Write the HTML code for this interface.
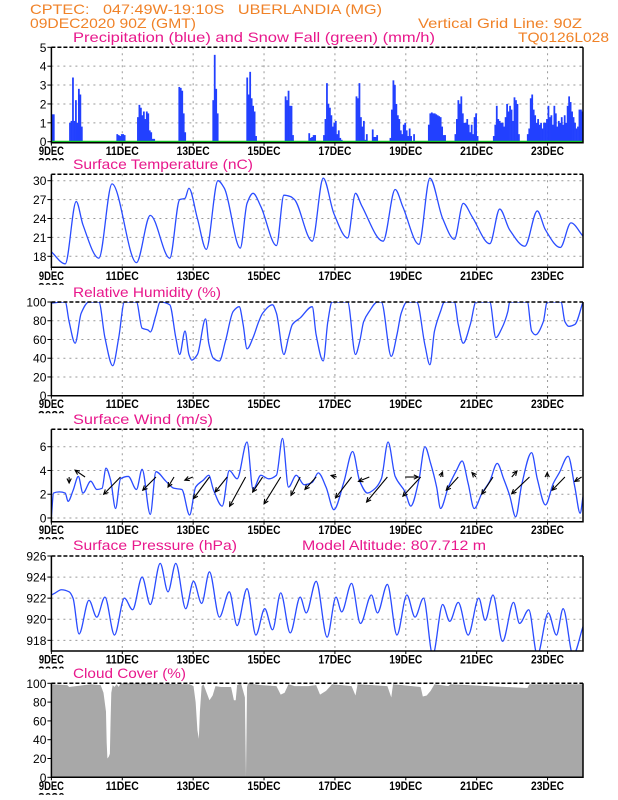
<!DOCTYPE html>
<html><head><meta charset="utf-8"><style>
html,body{margin:0;padding:0;background:#fff;}
svg{display:block;font-family:"Liberation Sans",sans-serif;}
</style></head><body>
<svg id="c" width="618" height="800" viewBox="0 0 618 800" xmlns="http://www.w3.org/2000/svg">
<g fill="#f08228" font-size="14">
<text x="30" y="14" textLength="352" lengthAdjust="spacingAndGlyphs" xml:space="preserve">CPTEC:   047:49W-19:10S   UBERLANDIA (MG)</text>
<text x="30" y="28" textLength="166" lengthAdjust="spacingAndGlyphs">09DEC2020 90Z (GMT)</text>
<text x="418" y="28" textLength="164" lengthAdjust="spacingAndGlyphs">Vertical Grid Line: 90Z</text>
<text x="518" y="42" textLength="91" lengthAdjust="spacingAndGlyphs">TQ0126L028</text>
</g>
<g id="plots"></g>
</svg>
<script>
// ---------- DATA ----------
const dayLabels=["9DEC","11DEC","13DEC","15DEC","17DEC","19DEC","21DEC","23DEC"];
const dayTicks=[0,2,4,6,8,10,12,14];
// precipitation runs: start hour, hourly values (mm/h)
const precipStarts=[0,12,44,58,86,109,132,158,174,184,206,229,255,273,299,322];
const precipRuns=[
[1.45,1.45],
[1.0,1.1,3.4,1.1,2.2,1.0,2.8,2.5,0.8],
[0.4,0.35,0.3,0.4,0.4,0.35],
[1.3,1.95,1.8,1.4,1.6,1.2,1.6,1.5,0.6,0.5,0.15,0.15],
[2.9,2.85,2.7,1.5,0.5],
[2.2,4.6,2.8,1.5],
[3.4,2.5,3.7,2.3,1.9,1.6,0.3],
[2.4,2.2,2.7,1.9,1.9,0.35],
[0.45,0.2,0.25,0.35,0.35],
[0.35,1.2,3.1,2.0,1.8,1.4,0.8,1.0,1.1,0.4,0.6,0.2,0.1],
[2.4,2.3,3.1,1.3,0.8,1.1,0.1,0.4,0,0,0,0.65,0.25,0.25,0.35],
[0.2,1.7,3.25,3.0,2.0,1.4,1.2,0.6,0.4,0.9,1.0,0.6,0.3,0.7,0.3,0,0.4],
[0.9,1.5,1.55,1.5,1.5,1.45,1.4,1.35,1.3,0.8,0.35,0.35],
[0.4,1.2,2.2,2.0,2.4,1.5,1.0,1.0,1.2,0.9,0.5,0.9,0.4,1.3,1.5,0.3],
[0.3,0.9,1.9,1.2,1.1,1.0,1.0,0.8,1.3,2.0,1.6,1.9,1.7,1.1,2.35,2.2,2.0,0.4],
[0.4,0.7,2.3,2.5,1.7,1.4,1.0,1.2,0.9,1.0,0.7,1.0,1.0,1.2,1.9,1.3,1.4,0.9,1.9,1.5,0.8,1.1,1.0,1.3,0.9,1.4,1.0,1.9,2.4,2.1,1.6,1.3,1.0,0.7,0.8,1.7,1.7,1.6]
];
const snowValue=0;
const tempDays=[0,.39,.70,.89,1.34,1.71,2.40,2.79,3.34,3.62,3.77,3.88,4.12,4.37,4.70,4.88,5.33,5.52,5.69,5.91,6.35,6.56,6.74,6.86,7.36,7.67,7.97,8.36,8.58,8.75,9.36,9.70,9.92,10.37,10.68,11.04,11.37,11.62,11.87,12.37,12.65,12.93,13.36,13.71,13.94,14.36,14.66,15];
const tempVals=[18.7,16.8,26.7,23,17.7,29.5,17.0,24.5,17.7,27,27.2,28.8,24,19.1,30,28.8,19.3,26.4,28,25.9,19.7,27.7,27.5,27,20.4,30.4,24.8,20.9,28,26.1,20.4,28.6,25.8,19.9,30.4,24,20.7,26.4,24.3,20,25.5,22.2,19.6,25.2,22.2,19.4,23.3,21.2];
const rhDays=[0,.39,.50,.67,.84,1.06,1.34,1.51,1.73,1.90,2.06,2.40,2.56,2.73,2.79,2.95,3.07,3.34,3.51,3.62,3.77,3.88,3.96,4.12,4.35,4.44,4.57,4.74,4.91,5.13,5.30,5.41,5.52,5.69,5.85,5.96,6.24,6.35,6.56,6.69,6.80,7.02,7.36,7.47,7.67,7.80,7.92,8.36,8.58,8.70,8.81,8.97,9.20,9.31,9.59,9.75,9.87,10.03,10.31,10.54,10.68,10.81,10.98,11.09,11.37,11.48,11.62,11.82,11.98,12.37,12.54,12.71,12.88,12.93,13.43,13.55,13.66,13.88,13.99,14.38,14.49,14.60,14.77,15];
const rhVals=[99,100,79,56,88,100,100,62,32,62,100,100,72,70,68,86,100,97,62,44,69,44,38,44,82,56,40,37,58,90,95,76,50,62,79,88,97,88,44,62,76,83,95,65,37,79,100,100,44,58,79,90,100,100,42,65,88,100,100,54,33,69,90,100,100,76,56,76,100,100,62,72,90,100,100,69,65,79,100,100,79,74,76,100];
const windDays=[0,.06,.22,.39,.47,.61,.76,.89,1.11,1.28,1.43,1.54,1.67,1.81,1.95,2.17,2.40,2.56,2.79,2.95,3.23,3.46,3.68,3.90,4.07,4.29,4.44,4.57,4.82,5.02,5.24,5.52,5.69,5.91,6.13,6.35,6.52,6.69,6.91,7.13,7.36,7.53,7.75,7.97,8.25,8.50,8.70,8.92,9.14,9.31,9.50,9.70,9.98,10.14,10.37,10.54,10.70,10.87,10.98,11.20,11.43,11.59,11.76,11.93,12.15,12.37,12.58,12.76,12.93,13.10,13.27,13.55,13.71,13.94,14.16,14.33,14.58,14.77,14.92,15];
const windVals=[0.1,2.1,2.2,2.1,1.4,2.3,3.5,2.1,3.1,2.4,2.5,4.2,3.2,0.8,3.3,3.5,2.4,4.1,0.3,3.9,3.1,2.5,2.4,0.25,2.6,3.2,3.6,2.4,1.0,4.0,3.3,6.4,2.4,3.6,3.3,3.6,6.7,2.6,3.6,2.8,3.0,3.8,2.6,0.7,3.0,5.6,3.1,2.1,2.5,3.3,6.4,3.5,2.2,1.0,3.2,6.0,4.6,2.6,0.8,2.6,4.0,4.8,2.9,0.8,2.1,3.1,4.6,3.3,1.9,0.1,2.8,5.5,3.3,1.1,2.9,3.8,5.2,2.6,0.4,1.8];
const arrowDays=[0.5,0.95,1.95,2.95,3.46,3.99,4.46,4.96,5.48,5.96,6.47,7.02,7.47,8.05,8.47,8.97,9.48,9.98,10.42,10.98,11.48,11.98,12.46,12.99,13.49,13.99,14.49,14.96];
const arrowU=[0,-2.5,-4.2,-3.3,-1.5,-2,-4,-3,-4,-2.5,-4.15,-2.3,-2.8,-1.4,-4,-2.7,-5.2,3.3,-4.45,0.5,-3,-1,-2.8,1.3,-4.45,0,-3.2,-1.7];
const arrowV=[-1.5,1.7,-4.3,-3.3,-2.5,-0.8,-5.4,-3.75,-7.3,-3.75,-6.7,-4.6,-3.1,0.4,-5.2,-1.1,-6.25,0,-4.8,1.25,-3.3,1.1,-4.3,1.5,-4.2,1.1,-3.3,-1.1];
const arrowLevel=3.45;
const presDays=[0,.11,.28,.50,.61,.78,1.06,1.28,1.51,1.78,2.06,2.29,2.56,2.79,3.07,3.29,3.51,3.79,4.01,4.24,4.46,4.74,5.02,5.24,5.52,5.77,6.02,6.24,6.47,6.74,7.02,7.19,7.47,7.78,8.03,8.19,8.47,8.72,9.03,9.20,9.48,9.75,10.03,10.26,10.50,10.76,11.04,11.24,11.48,11.76,12.06,12.24,12.46,12.73,13.04,13.21,13.47,13.71,14.02,14.25,14.44,14.72,15];
const presVals=[922.3,922.5,922.8,922.6,922,918.6,921.8,920.2,922.1,918.5,922,920.9,924,921.4,925.3,922.6,925.3,921,923.6,921.5,924.5,920.2,922.6,919.4,922.9,918.5,921,919,922.5,918.7,922.1,920.6,923.6,918.3,922.1,920.7,923.4,919.6,922.3,920.6,923.3,918.5,922.3,920.2,922,916.6,921.4,919.8,921.6,918.5,922,919.9,922.3,917.9,921.6,919.6,920.9,916.6,920.6,918.5,921,916.6,919.3];
const cloudDays=[0,.45,.50,1.11,1.39,1.47,1.54,1.56,1.58,1.62,1.65,1.67,1.69,1.73,1.78,1.84,1.90,1.95,3.90,4.01,4.07,4.12,4.16,4.19,4.24,4.29,4.46,4.55,4.63,4.79,5.07,5.15,5.20,5.24,5.35,5.46,5.49,5.52,5.55,5.91,6.35,6.47,6.58,6.69,6.86,7.25,7.47,7.58,7.75,7.92,8.47,8.58,8.64,9.48,9.59,9.64,10.42,10.48,10.59,10.70,10.81,11.20,11.26,13.43,13.49,15];
const cloudVals=[99,98,96,99,98,90,70,37,20,22,25,60,90,98,96,99,96,100,99,97,80,50,41,70,97,99,82,87,97,96,96,82,82,98,100,85,0,96,100,98,97,88,90,99,97,97,98,88,92,99,97,87,99,97,85,99,96,86,87,92,99,97,99,95,99,99];

// ---------- AXES ----------
const X0=51.4, DX=35.44, XR=X0+15*DX;
const xd=d=>X0+d*DX;
const NS="http://www.w3.org/2000/svg";
const root=document.getElementById('plots');
function el(tag,attrs,parent){const e=document.createElementNS(NS,tag);for(const k in attrs)e.setAttribute(k,attrs[k]);(parent||root).appendChild(e);return e;}
const panels={
 precip:{top:47.3,bot:142.7,y:v=>141.7-v*18.88,ticks:[0,1,2,3,4,5],title:"Precipitation (blue) and Snow Fall (green) (mm/h)",ty:42,tw:362},
 temp:{top:174.3,bot:267.3,y:v=>180.7+(30-v)*6.3,ticks:[18,21,24,27,30],title:"Surface Temperature (nC)",ty:169,tw:180},
 rh:{top:302,bot:395.7,y:v=>395.7-v*0.937,ticks:[0,20,40,60,80,100],title:"Relative Humidity (%)",ty:297,tw:148},
 wind:{top:429.3,bot:521.7,y:v=>518-v*11.88,ticks:[0,2,4,6],title:"Surface Wind (m/s)",ty:424,tw:140},
 pres:{top:556,bot:651,y:v=>556+(926-v)*10.54,ticks:[918,920,922,924,926],title:"Surface Pressure (hPa)",ty:550,tw:164},
 cloud:{top:683.3,bot:777.3,y:v=>777.3-v*0.94,ticks:[0,20,40,60,80,100],title:"Cloud Cover (%)",ty:678,tw:113}
};
for(const key in panels){
 const p=panels[key];
 const g=el('g',{});
 
 
 p.g=g;
 const cp=el('clipPath',{id:'clip-'+key},g);
 el('rect',{x:X0,y:p.top,width:XR-X0,height:p.bot-p.top},cp);
 const t=el('text',{x:73,y:p.ty,fill:'#e8188c','font-size':14,textLength:p.tw,lengthAdjust:'spacingAndGlyphs'},g);
 t.textContent=p.title;
 
 
 p.clipG=el('g',{'clip-path':'url(#clip-'+key+')'},g);
 p.gridG=el('g',{},p.clipG);
}
{const t=el('text',{x:302,y:550,fill:'#e8188c','font-size':14,textLength:184,lengthAdjust:'spacingAndGlyphs'});
t.textContent="Model Altitude: 807.712 m";

}

function drawGrid(p,key){
 const gg=p.gridG;
 p.ticks.forEach(v=>{
  const y=p.y(v);
  const l=el('line',{x1:X0,x2:XR,y1:y,y2:y,stroke:'#999','stroke-width':1,'stroke-dasharray':'2,4'},gg);
  
  
 });
 dayTicks.forEach(d=>{ if(d===0)return;
  const l=el('line',{x1:xd(d),x2:xd(d),y1:p.top,y2:p.bot,stroke:'#999','stroke-width':1,'stroke-dasharray':'2,4'},gg);
  
  
 });
}
function drawFrame(p,key){
 const g=p.g;
 el('line',{x1:X0,x2:XR,y1:p.top,y2:p.top,stroke:'#000','stroke-width':1.5,'stroke-dasharray':'4,2'},g);
 el('polyline',{points:`${X0},${p.top} ${X0},${p.bot} ${XR},${p.bot} ${XR},${p.top}`,fill:'none',stroke:'#000','stroke-width':1.5},g);
 p.ticks.forEach(v=>{
  const y=p.y(v);
  el('line',{x1:X0-4,x2:X0,y1:y,y2:y,stroke:'#000','stroke-width':1},g);
  const t=el('text',{x:X0-5,y:y+4.5,'text-anchor':'end','font-size':12,fill:'#000'},g);
  t.textContent=v;
  
  
 });
 dayTicks.forEach((d,i)=>{
  el('line',{x1:xd(d),x2:xd(d),y1:p.bot,y2:p.bot+3,stroke:'#000','stroke-width':1},g);
  const t=el('text',{x:xd(d),y:p.bot+12.5,'text-anchor':'middle','font-size':12,'font-weight':'bold',fill:'#000',textLength:d===0?25:33,lengthAdjust:'spacingAndGlyphs'},g);
  t.textContent=dayLabels[i];
  
  
 });
 const cy=el('clipPath',{id:'yr-'+key},g);
 el('rect',{x:30,y:p.bot+13.5,width:40,height:4},cy);
 const yr=el('text',{x:xd(0),y:p.bot+24,'text-anchor':'middle','font-size':12,'font-weight':'bold',fill:'#000','clip-path':'url(#yr-'+key+')'},g);
 yr.textContent="2020";
 
 
}
// monotone cubic (Fritsch-Carlson) path
function smoothPath(xs,ys){
 const n=xs.length,dx=[],s=[],m=[];
 for(let i=0;i<n-1;i++){dx[i]=xs[i+1]-xs[i];s[i]=(ys[i+1]-ys[i])/dx[i];}
 m[0]=s[0];m[n-1]=s[n-2];
 for(let i=1;i<n-1;i++){
  if(s[i-1]*s[i]<=0)m[i]=0;
  else{const w1=2*dx[i]+dx[i-1],w2=dx[i]+2*dx[i-1];m[i]=(w1+w2)/(w1/s[i-1]+w2/s[i]);}
 }
 let d=`M${xs[0]},${ys[0]}`;
 for(let i=0;i<n-1;i++){
  const h=dx[i]/3;
  d+=` C${xs[i]+h},${ys[i]+m[i]*h} ${xs[i+1]-h},${ys[i+1]-m[i+1]*h} ${xs[i+1]},${ys[i+1]}`;
 }
 return d;
}
function drawLine(p,key,days,vals){
 const pth=el('path',{d:smoothPath(days.map(xd),vals.map(p.y)),fill:'none',stroke:'#2a4cff','stroke-width':1.3},p.clipG);
 
 
}
{const p=panels.precip;drawGrid(p,'precip');
 const hw=DX/24;
 precipRuns.forEach((run,ri)=>{run.forEach((v,j)=>{
  if(v<=0)return;
  const h=precipStarts[ri]+j;
  const r=el('rect',{x:xd(h/24),y:p.y(v),width:hw+0.3,height:p.y(0)-p.y(v),fill:'#2240ff'},p.clipG);
  
  
 });});
 const s=el('line',{x1:X0,x2:XR,y1:p.y(snowValue),y2:p.y(snowValue),stroke:'#10c020','stroke-width':2},p.clipG);
 
 
 drawFrame(p,'precip');}
{const p=panels.temp;drawGrid(p,'temp');drawLine(p,'temp',tempDays,tempVals);drawFrame(p,'temp');}
{const p=panels.rh;drawGrid(p,'rh');drawLine(p,'rh',rhDays,rhVals);drawFrame(p,'rh');}
{const p=panels.wind;drawGrid(p,'wind');drawLine(p,'wind',windDays,windVals);
 const k=4;
 arrowDays.forEach((d,i)=>{
  const x1=xd(d),y1=p.y(arrowLevel),x2=x1+arrowU[i]*k,y2=y1-arrowV[i]*k;
  const g=el('g',{stroke:'#000','stroke-width':1.1,fill:'none'},p.g);
  
  
  el('line',{x1,y1,x2,y2},g);
  const a=Math.atan2(y2-y1,x2-x1),L=5;
  el('polyline',{points:`${x2-L*Math.cos(a-0.45)},${y2-L*Math.sin(a-0.45)} ${x2},${y2} ${x2-L*Math.cos(a+0.45)},${y2-L*Math.sin(a+0.45)}`},g);
 });
 drawFrame(p,'wind');}
{const p=panels.pres;drawGrid(p,'pres');drawLine(p,'pres',presDays,presVals);drawFrame(p,'pres');}
{const p=panels.cloud;
 let d=`M${xd(0)},${p.y(0)}`;
 cloudDays.forEach((dd,i)=>{d+=` L${xd(dd)},${p.y(cloudVals[i])}`;});
 d+=` L${xd(15)},${p.y(0)} Z`;
 const a=el('path',{d,fill:'#a8a8a8',stroke:'none'},p.clipG);
 
 
 drawFrame(p,'cloud');}
</script>
</body></html>
